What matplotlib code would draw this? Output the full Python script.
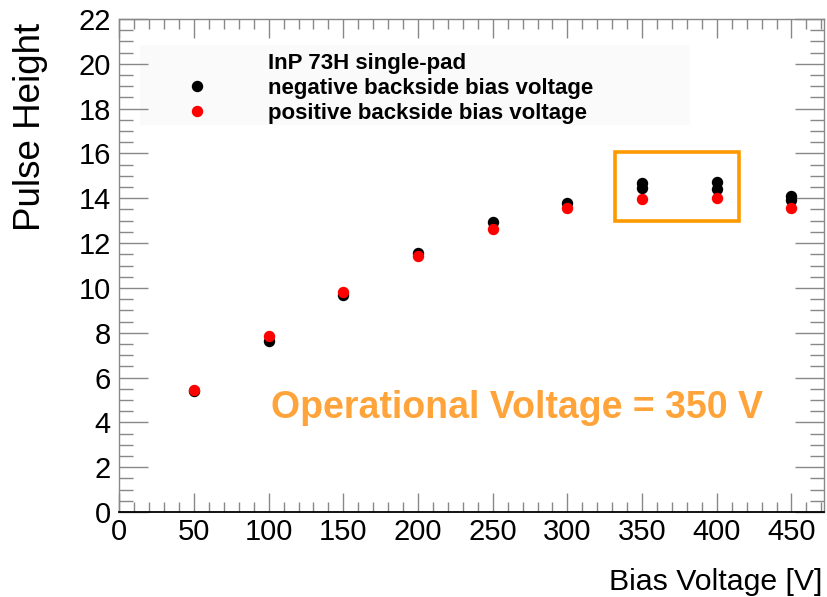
import matplotlib
matplotlib.use("Agg")
import matplotlib.pyplot as plt
from matplotlib.patches import Rectangle
from matplotlib.lines import Line2D
from matplotlib.ticker import MultipleLocator

plt.rcParams['font.family'] = ['Liberation Sans', 'DejaVu Sans']

# Pulse height vs. bias voltage (two runs per polarity at some voltages)
neg_voltage = [50, 100, 150, 200, 250, 300, 350, 350, 400, 400, 450, 450]
neg_pulse = [5.40, 7.63, 9.70, 11.54, 12.92, 13.80, 14.66, 14.48, 14.73, 14.43, 14.12, 13.92]

pos_voltage = [50, 100, 150, 200, 250, 300, 350, 400, 450]
pos_pulse = [5.44, 7.87, 9.83, 11.42, 12.62, 13.56, 13.98, 14.02, 13.58]

x_ticks = [0, 50, 100, 150, 200, 250, 300, 350, 400, 450]
y_ticks = list(range(0, 23, 2))

title_text = "InP 73H single-pad"
neg_label = "negative backside bias voltage"
pos_label = "positive backside bias voltage"
op_text = "Operational Voltage = 350 V"
op_box = (332, 13.0, 415, 16.05)  # x0, y0, x1, y1

W, H = 827, 597
fig = plt.figure(figsize=(W / 100, H / 100), dpi=100)
ax = fig.add_axes([119.3 / W, 1 - 512 / H, 705 / W, 493 / H])

ax.set_xlim(0, 472)
ax.set_ylim(0, 22)

ax.plot(neg_voltage, neg_pulse, 'o', color='black', markersize=7.2, zorder=3)
ax.plot(pos_voltage, pos_pulse, 'o', color='#ff0000', markersize=7.2, zorder=4)

# Highlight around the operating point
x0, y0, x1, y1 = op_box
ax.add_patch(Rectangle((x0, y0), x1 - x0, y1 - y0, fill=False,
                       edgecolor='#ff9900', linewidth=2.6, zorder=5))
ax.text(101.5, 4.65, op_text, color='#ffa43a', fontsize=27, fontweight='bold',
        ha='left', va='center', zorder=5)

# Axes styling in the ROOT manner: inner ticks on all four sides
ax.set_xticks(x_ticks)
ax.set_yticks(y_ticks)
ax.xaxis.set_minor_locator(MultipleLocator(10))
ax.yaxis.set_minor_locator(MultipleLocator(0.5))
ax.tick_params(axis='x', which='major', direction='in', length=14, width=1,
               color='#888888', top=True, labelsize=21, pad=4)
ax.tick_params(axis='x', which='minor', direction='in', length=7, width=1,
               color='#888888', top=True)
ax.tick_params(axis='y', which='major', direction='in', length=21, width=1,
               color='#888888', right=True, labelsize=21, pad=6)
ax.tick_params(axis='y', which='minor', direction='in', length=10, width=1,
               color='#888888', right=True)
for side in ('left', 'top', 'right'):
    ax.spines[side].set_color('#888888')
    ax.spines[side].set_linewidth(1)
ax.spines['bottom'].set_color('black')
ax.spines['bottom'].set_linewidth(1.3)

fig.text(822 / W, 1 - 582 / H, 'Bias Voltage [V]', fontsize=21.8,
         ha='right', va='center')
fig.text(30 / W, 1 - 127 / H, 'Pulse Height', fontsize=26.5,
         rotation=90, ha='center', va='center')

# Legend panel
ax.add_patch(Rectangle((0.029, 0.785), 0.781, 0.162, transform=ax.transAxes,
                       facecolor='#fafafa', edgecolor='none', zorder=1))
handles = [Line2D([], [], linestyle='none', marker=None),
           Line2D([], [], linestyle='none', marker='o', color='black', markersize=7.2),
           Line2D([], [], linestyle='none', marker='o', color='#ff0000', markersize=7.2)]
leg = ax.legend(handles, [title_text, neg_label, pos_label],
                loc='upper left', bbox_to_anchor=(0.079, 0.932),
                prop={'weight': 'bold', 'size': 16},
                frameon=False, handlelength=2.0,
                handletextpad=2.2, labelspacing=0.19, borderpad=0,
                borderaxespad=0)
leg.set_zorder(2)

fig.savefig('out.png', dpi=100)
